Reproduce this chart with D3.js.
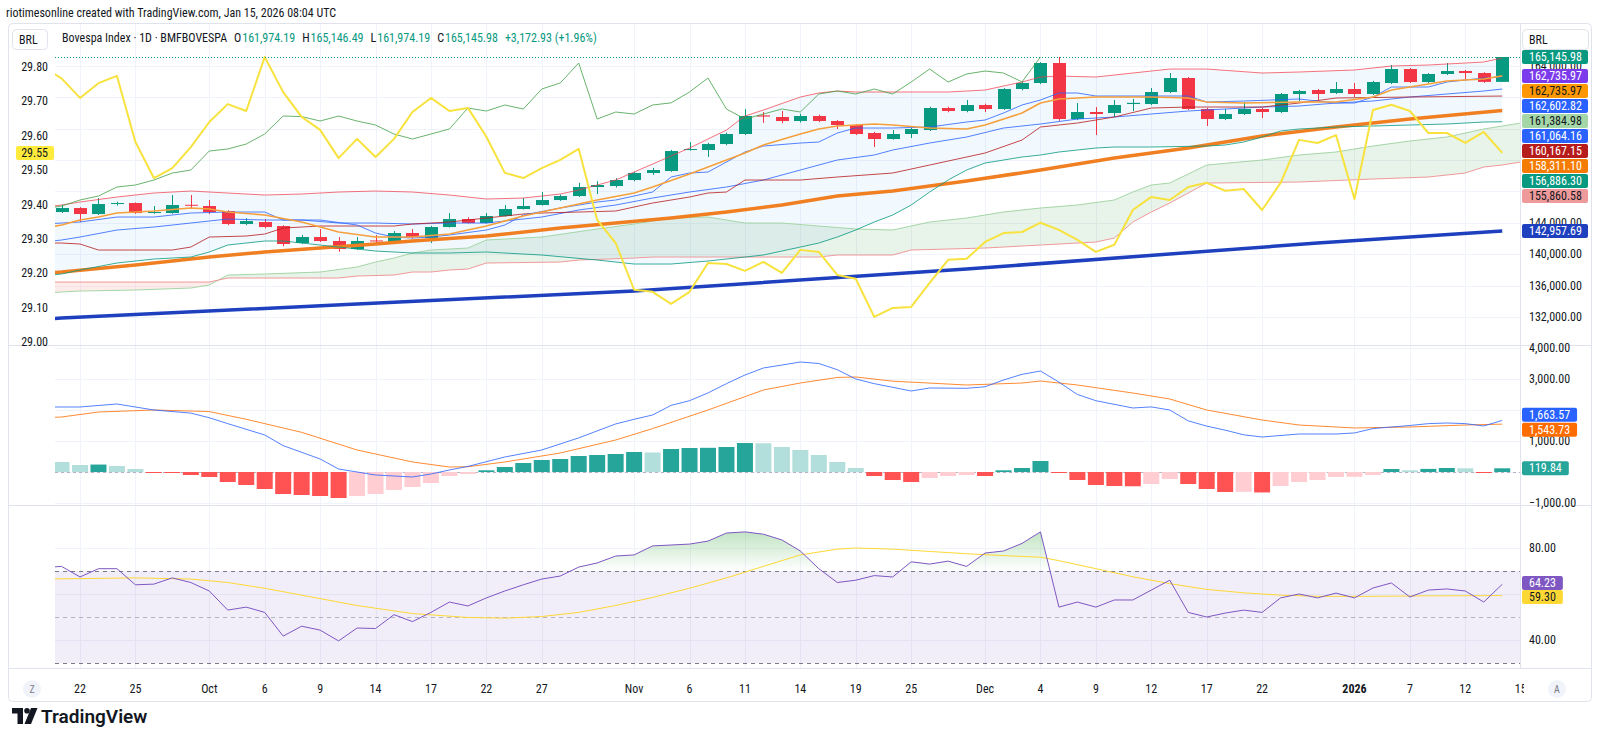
<!DOCTYPE html>
<html>
<head>
<meta charset="utf-8">
<title>Bovespa Index · 1D</title>
<script src="https://cdn.jsdelivr.net/npm/d3@7/dist/d3.min.js"></script>
<style>
  html, body { margin: 0; background: #fff; }
  svg { display: block; }
  text { font-family: "Liberation Sans Narrow", "Arial Narrow", "Roboto Condensed", Roboto, sans-serif; font-size: 12px; fill: #131722; }
</style>
</head>
<body>
<svg id="chart" width="1600" height="756"></svg>
<script>
// bar index 0 = Sep 22 2025; candles run from -1 (Sep 19) to 77 (Jan 14 2026)
const FIRST_BAR = -1;
const opens  = [145376,145886,145120,146400,146524,145248,145248,146300,146141,145503,143845,144100,143590,141422,142187,141677,140656,141750,141549,142697,142059,143462,144483,143973,144865,145758,146269,146906,147416,148564,148692,149457,150350,150605,153284,153284,154049,155325,157700,157493,156983,157621,156983,156473,155452,154687,155325,155835,158641,158258,159024,158513,161064,161830,164381,157238,158131,158003,159151,159151,160682,162467,158513,157238,157876,158513,158131,160427,160937,160554,161064,160427,161830,163615,161957,162978,163360,163105,161974.19];
const highs  = [146269,146000,147161,146700,146600,146141,147544,147544,146906,145600,144600,144483,143700,142440,143200,142187,142187,142440,142950,143200,143600,145248,144700,145248,146269,147161,147926,147600,149100,149300,149700,150500,151000,153300,154300,154200,155500,158500,158131,158258,157900,157800,157100,156600,155600,155835,156100,158800,158800,159661,159200,161200,162000,164500,165146,159279,158768,159661,159800,161192,163105,162600,158650,158513,159400,158650,160550,160950,161064,161957,161830,162100,164126,163750,163100,164381,163500,163200,165146.49];
const lows   = [145250,144100,145000,146200,145150,145150,145150,145886,145120,143700,143700,143300,141000,141300,141550,140300,140550,141422,141300,142000,141422,143400,143900,143900,144800,145700,146200,146800,147300,147670,148500,149300,150100,150500,153200,152400,153900,155200,156750,156700,156800,156850,155963,155200,153667,154600,154815,155700,158100,158100,158131,158400,160900,161700,157000,157100,155197,157500,158258,159000,160550,158400,156345,157100,157750,157365,158000,159534,159661,160427,160044,160300,161700,161830,161830,162850,162340,161850,161974.19];
const closes = [145886,145120,146396,146524,145248,145376,146269,146200,145376,143845,144228,143462,141294,142187,141677,140656,141677,141650,142697,142187,143462,144483,143973,144865,145758,146141,146906,147416,148564,148820,149457,150350,150733,153156,153411,154049,155325,157621,157550,156983,157621,156983,156473,155325,154687,155325,155963,158641,158258,159024,158513,161064,161830,164381,157238,158131,157876,159024,159300,160682,162467,158513,157238,157876,158513,158131,160427,160809,160427,161064,160427,161957,163615,161957,162978,163360,163105,161973.05,165145.98];

// overlay series on the left scale, from bar -2
const FIRST_YEL = -2;
const yellowVals = [29.80,29.767,29.71,29.753,29.774,29.582,29.477,29.506,29.567,29.640,29.692,29.672,29.829,29.727,29.655,29.617,29.535,29.591,29.538,29.591,29.669,29.71,29.672,29.681,29.597,29.492,29.477,29.506,29.530,29.562,29.355,29.288,29.152,29.146,29.111,29.146,29.230,29.227,29.207,29.233,29.201,29.268,29.262,29.195,29.184,29.073,29.099,29.102,29.172,29.239,29.242,29.291,29.317,29.320,29.347,29.326,29.297,29.262,29.283,29.384,29.422,29.413,29.451,29.463,29.440,29.445,29.384,29.463,29.588,29.579,29.602,29.416,29.675,29.690,29.672,29.608,29.608,29.579,29.611,29.55];

// [bar, value] pairs
const bbUpper = [[-2,146013],[-1,146269],[0,146651],[2,147289],[4,147799],[6,148054],[8,147799],[10,147544],[12,147671],[14,147926],[16,148054],[18,147926],[20,147544],[22,147034],[24,147161],[26,147671],[27,148182],[28,148820],[29,149457],[31,151498],[33,153539],[35,155835],[36,157621],[37,158386],[39,160044],[40,160554],[41,160809],[42,160682],[44,160682],[47,160682],[49,160937],[50,161447],[51,161957],[52,162595],[53,162722],[55,162595],[57,163105],[59,163615],[61,163615],[64,163105],[66,163233],[69,163488],[71,163998],[73,164126],[76,164508],[77,165018]];
const bbLower = [[-2,137213],[-1,137468],[0,137978],[2,138871],[4,139381],[6,139636],[7,140274],[8,141166],[9,141422],[10,141677],[11,141677],[12,141422],[14,140911],[16,140401],[18,140146],[20,140146],[22,140274],[25,139891],[28,139253],[30,138743],[32,138743],[34,139126],[37,139891],[39,140911],[40,141422],[41,142187],[42,143080],[43,144100],[44,144993],[45,146269],[46,147926],[47,149457],[48,150733],[49,151625],[50,152008],[51,152391],[52,152646],[53,153029],[54,153284],[55,153539],[56,153667],[58,153667],[61,153794],[62,153922],[63,154304],[64,154942],[65,155707],[66,155963],[68,156218],[70,156345],[72,156473],[74,156600],[76,156855],[77,156886.30]];
const bbBasis = [[-2,141549],[-1,141804],[0,142187],[2,143080],[4,143462],[6,143973],[8,144483],[10,144355],[12,144355],[14,143973],[16,143973],[18,143845],[20,143973],[22,143973],[25,144738],[27,145631],[29,146269],[31,147161],[33,147926],[35,148564],[37,149457],[39,150733],[41,152008],[43,152646],[44,153284],[46,154177],[48,154942],[50,156090],[52,156600],[54,157238],[56,157493],[58,157876],[60,158258],[62,158513],[64,158768],[66,158896],[68,159279],[70,159534],[72,160044],[74,160427],[76,160809],[77,161064.16]];
const tenkan = [[-2,143845],[-1,143973],[0,144100],[2,144738],[4,144738],[6,145248],[8,145376],[10,145376],[11,144355],[13,144355],[15,143718],[16,142697],[17,142187],[18,142059],[19,142187],[20,142442],[22,143080],[23,143718],[24,144993],[26,145886],[28,146651],[29,146906],[31,147926],[32,149840],[33,150350],[34,150478],[36,153029],[37,153794],[39,154177],[40,154304],[41,155452],[42,156090],[44,156090],[46,156218],[48,156855],[49,157110],[50,158003],[51,159024],[52,159661],[53,160554],[54,160554],[55,160172],[58,160172],[60,160172],[61,159406],[63,159534],[66,159789],[68,159279],[69,159279],[70,160044],[71,161319],[73,161319],[74,161957],[76,162467],[77,162602.82]];
const kijun = [[-2,141422],[-1,141422],[0,141294],[1,140529],[5,140529],[6,140911],[7,142187],[9,142314],[10,142569],[11,143335],[13,143590],[17,143590],[18,143845],[20,144100],[22,144610],[24,145120],[25,145248],[29,145503],[31,146524],[33,147289],[34,147799],[35,147926],[36,149457],[39,149457],[41,149840],[44,150350],[46,151371],[49,152901],[51,154559],[52,156218],[54,156728],[56,157493],[58,158641],[60,158768],[64,158768],[66,159279],[68,159916],[72,160044],[77,160167.15]];
const ema = [[-2,143335],[-1,143718],[0,144355],[1,144738],[2,145248],[4,145503],[6,145886],[7,145758],[8,145376],[10,144993],[12,144100],[14,142824],[16,142187],[18,142187],[20,142569],[22,143590],[24,144865],[26,145886],[28,146906],[30,147799],[31,148564],[33,150222],[35,152008],[36,152901],[37,153922],[39,155325],[40,155963],[41,156345],[43,156600],[44,156473],[46,156090],[48,155963],[49,156473],[51,158003],[52,159279],[53,159789],[55,160044],[58,160044],[60,159916],[61,159406],[63,159279],[66,159406],[68,159406],[70,160044],[71,160937],[73,161702],[74,162085],[76,162340],[77,162735.97]];
const sma50 = [[-2,137595],[-1,137723],[3,138616],[7,139636],[10,140274],[13,140784],[16,141294],[18,141677],[22,142314],[26,143335],[29,143973],[32,144610],[35,145376],[38,146269],[41,147416],[44,148054],[48,149330],[52,150733],[56,152263],[60,153539],[64,155069],[68,156218],[72,157238],[77,158311.10]];
const sma200 = [[-2,131727],[-1,131855],[15,133641],[30,135299],[48,138105],[67,141422],[77,142957.69]];
const spanA = [[-2,135044],[-1,135171],[0,135299],[3,135427],[6,135682],[7,136065],[8,137340],[10,137468],[13,137723],[15,138360],[16,138998],[17,139508],[18,140146],[19,140529],[21,140784],[22,141804],[25,142187],[28,143207],[30,143845],[32,144610],[34,144738],[36,143973],[38,143973],[40,143590],[42,143207],[44,143080],[45,143590],[46,144100],[48,144610],[50,145376],[52,145886],[54,146269],[56,146906],[57,147926],[58,148820],[59,149075],[61,151371],[64,152008],[66,152646],[68,153029],[70,153794],[72,154432],[74,154942],[76,155963],[77,156345],[78,156728]];
const spanB = [[-2,136447],[7,136447],[8,136958],[14,136958],[15,137213],[17,137340],[18,137723],[19,137723],[20,137978],[21,138105],[22,138871],[26,138998],[27,139253],[30,139508],[31,139636],[40,139636],[41,139891],[44,139891],[45,140529],[49,140784],[52,141166],[55,141549],[56,142059],[57,144100],[58,145376],[59,146524],[60,147799],[61,149075],[66,149202],[70,149585],[73,149840],[74,150095],[75,150350],[76,151116],[77,151371],[78,151753]];
const LAG = 25; // lagging span drawn 25 bars back

// MACD pane
const histVals = [323,226,240,194,97,-16,-22,-97,-161,-323,-419,-548,-710,-742,-774,-839,-774,-710,-581,-484,-355,-129,-65,55,161,290,387,419,516,548,581,645,630,742,774,780,806,935,925,806,710,548,323,129,-129,-258,-323,-194,-129,-97,-129,55,129,355,-32,-258,-419,-452,-460,-387,-226,-387,-548,-645,-640,-660,-452,-323,-258,-161,-155,-97,97,55,100,129,120,-20,119.84];
const macdLine = [[-2,2097],[-1,2097],[0,2097],[2,2194],[4,2000],[6,1900],[7,1750],[8,1560],[10,1194],[11,850],[13,420],[14,97],[16,-97],[18,-161],[19,-65],[20,65],[21,180],[23,484],[25,710],[27,1100],[29,1550],[30,1700],[31,1839],[32,2150],[33,2300],[34,2550],[35,2850],[36,3129],[37,3355],[38,3450],[39,3548],[40,3500],[41,3300],[42,3000],[43,2850],[45,2613],[46,2710],[48,2700],[49,2750],[50,2968],[51,3150],[52,3258],[53,2900],[54,2500],[55,2300],[57,2065],[58,2100],[59,2000],[60,1650],[61,1480],[62,1350],[63,1200],[64,1129],[66,1226],[68,1226],[69,1260],[70,1400],[71,1452],[72,1500],[73,1560],[74,1581],[75,1560],[76,1484],[77,1663.57]];
const macdSignal = [[-2,1750],[-1,1774],[1,1935],[4,2000],[7,1950],[9,1700],[12,1280],[15,710],[18,323],[20,161],[21,170],[23,323],[26,613],[29,1032],[31,1400],[34,2000],[37,2645],[39,2871],[41,3050],[42,3065],[44,2930],[48,2806],[51,2870],[52,2935],[54,2806],[57,2548],[59,2355],[61,2000],[64,1677],[66,1516],[69,1420],[72,1452],[75,1516],[77,1543.73]];

// RSI pane, from bar -2
const rsiVals = [71.5,72,67.4,71,71,64,64.3,67,65,61.3,53,54.3,52,41.7,46,44.3,39.6,45.2,45,51,48,52,56.5,54.8,58.3,61.3,64,66.5,67.8,71.7,73.5,76.5,77,80.9,81.3,81.7,83,86.5,87,86,83.5,78.7,71,65,66,68,67.4,74,73,74.3,72,77.8,78.7,82,87,54.3,56.5,54.3,57.4,57.4,61.7,66,52,50,51.7,53,52,58.3,60,58.3,60.4,58.3,62.6,64.8,58.7,61.7,62.2,61.3,56.5,64.23];
const rsiMa = [[-2,66.5],[3,67],[6,66.5],[8,65],[10,62.5],[12,59.5],[15,55],[18,51.5],[21,49.8],[23,49.5],[25,50.2],[27,52],[29,55],[31,58.5],[33,62.5],[35,67],[37,72],[39,77],[41,79.5],[42,80],[44,79.5],[46,78.5],[48,77.5],[50,76.7],[52,76],[53,74.5],[55,71],[57,67.5],[59,64.5],[61,62],[63,60.5],[65,59.5],[67,59],[70,59],[73,59.2],[77,59.3]];

// axes
const timeTicks  = [0,3,7,10,13,16,19,22,25,30,33,36,39,42,45,49,52,55,58,61,64,69,72,75,78];
const timeLabels = ['22','25','Oct','6','9','14','17','22','27','Nov','6','11','14','19','25','Dec','4','9','12','17','22','2026','7','12','15'];
const priceTicks = [132000,136000,140000,144000,148000,152000,156000,160000,164000];
const leftTicks  = [29.0,29.1,29.2,29.3,29.4,29.5,29.6,29.7,29.8];
const macdTicks  = [-1000,0,1000,2000,3000,4000];
const rsiTicks   = [40,60,80];

// ---------------------------------------------------------------------------
const svg = d3.select('#chart');
const L = 55, R = 1520;
const panes = { main: [23, 345], macd: [345, 505], rsi: [505, 668] };
const UP = '#089981', DOWN = '#f23645';
const fmt = d3.format(',.2f');

const x  = d3.scaleLinear().domain([0, 78]).range([80, 1520.7]);
const yP = d3.scaleLinear().domain([132000, 164000]).range([316.9, 66]);
const yL = d3.scaleLinear().domain([29.0, 29.8]).range([342, 67]);
const yM = d3.scaleLinear().domain([-1000, 4000]).range([503, 348]);
const yR = d3.scaleLinear().domain([40, 80]).range([640, 548]);

const defs = svg.append('defs');
Object.entries(panes).forEach(([k, [t, b]]) => {
  defs.append('clipPath').attr('id', 'clip-' + k)
    .append('rect').attr('x', L).attr('y', t).attr('width', R - L).attr('height', b - t);
});
defs.append('clipPath').attr('id', 'clip-time')
  .append('rect').attr('x', 8).attr('y', 668).attr('width', 1516).attr('height', 34);

// header
svg.append('text').attr('x', 6).attr('y', 13).attr('dominant-baseline', 'central')
  .text('riotimesonline created with TradingView.com, Jan 15, 2026 08:04 UTC');

// frame & pane borders
svg.append('rect').attr('x', 8.5).attr('y', 23.5).attr('width', 1583).attr('height', 678)
  .attr('rx', 4).attr('fill', '#fff').attr('stroke', '#e0e3eb');

const grid = svg.append('g').attr('stroke', '#f0f3fa').attr('stroke-width', 1);
timeTicks.filter(i => x(i) < R).forEach(i => {
  const gx = Math.round(x(i)) + 0.5;
  grid.append('line').attr('x1', gx).attr('x2', gx).attr('y1', 24).attr('y2', 668);
});
const hLine = (y) => grid.append('line').attr('x1', L).attr('x2', R)
  .attr('y1', Math.round(y) + 0.5).attr('y2', Math.round(y) + 0.5);
priceTicks.forEach(v => hLine(yP(v)));
macdTicks.forEach(v => hLine(yM(v)));
rsiTicks.forEach(v => hLine(yR(v)));

const border = svg.append('g').attr('stroke', '#e0e3eb');
[345, 505, 668].forEach(y => border.append('line').attr('x1', 9).attr('x2', 1591).attr('y1', y + 0.5).attr('y2', y + 0.5));
border.append('line').attr('x1', R + 0.5).attr('x2', R + 0.5).attr('y1', 24).attr('y2', 668);

// ---- main pane ----
const main = svg.append('g').attr('clip-path', 'url(#clip-main)');
const lineP = d3.line().x(d => x(d[0])).y(d => yP(d[1]));

// ichimoku cloud: polygon between span A and span B, coloured by which one is on top
const cloudPoly = lineP(spanA.concat(spanB.slice().reverse())) + 'Z';
const aboveB = d3.area().x(d => x(d[0])).y0(0).y1(d => yP(d[1]))(spanB);
const belowB = d3.area().x(d => x(d[0])).y0(400).y1(d => yP(d[1]))(spanB);
defs.append('clipPath').attr('id', 'above-b').append('path').attr('d', aboveB);
defs.append('clipPath').attr('id', 'below-b').append('path').attr('d', belowB);
main.append('g').attr('clip-path', 'url(#above-b)').append('path').attr('d', cloudPoly)
  .attr('fill', 'rgba(67,160,71,0.12)').attr('fill-rule', 'evenodd');
main.append('g').attr('clip-path', 'url(#below-b)').append('path').attr('d', cloudPoly)
  .attr('fill', 'rgba(244,67,54,0.10)').attr('fill-rule', 'evenodd');

// bollinger fill
main.append('path').attr('d', lineP(bbUpper.concat(bbLower.slice().reverse())) + 'Z')
  .attr('fill', 'rgba(33,150,243,0.06)');

const bars = opens.map((o, k) => ({ i: k + FIRST_BAR, o, h: highs[k], l: lows[k], c: closes[k] }));
const candle = main.selectAll('g.bar').data(bars).enter().append('g').attr('class', 'bar');
candle.append('line')
  .attr('x1', d => Math.round(x(d.i)) + 0.5).attr('x2', d => Math.round(x(d.i)) + 0.5)
  .attr('y1', d => yP(d.h)).attr('y2', d => yP(d.l))
  .attr('stroke', d => d.c >= d.o ? UP : DOWN);
candle.append('rect')
  .attr('x', d => Math.round(x(d.i)) - 6).attr('width', 13)
  .attr('y', d => yP(Math.max(d.o, d.c)))
  .attr('height', d => Math.max(1, yP(Math.min(d.o, d.c)) - yP(Math.max(d.o, d.c))))
  .attr('fill', d => d.c >= d.o ? UP : DOWN);

const drawP = (pts, color, w, op) => main.append('path').attr('d', lineP(pts))
  .attr('fill', 'none').attr('stroke', color).attr('stroke-width', w)
  .attr('stroke-opacity', op == null ? 1 : op).attr('stroke-linejoin', 'round');

drawP(spanA, '#a5d6a7', 1);
drawP(spanB, '#ef9a9a', 1);
drawP(sma200, '#1e40bf', 3.5);
drawP(sma50, '#f07f22', 3.5);
drawP(bbUpper, '#f23645', 1, 0.7);
drawP(bbLower, '#089981', 1, 0.8);
drawP(bbBasis, '#2962ff', 1, 0.8);
drawP(kijun, '#b71c1c', 1, 0.8);
drawP(tenkan, '#2962ff', 1, 0.8);
drawP(ema, '#f5a03c', 1.6);
const lagging = closes.map((c, k) => [k + FIRST_BAR - LAG, c]);
drawP(lagging, '#43a047', 1, 0.8);

const yellowPts = yellowVals.map((v, k) => [k + FIRST_YEL, v]);
main.append('path').attr('d', d3.line().x(d => x(d[0])).y(d => yL(d[1]))(yellowPts))
  .attr('fill', 'none').attr('stroke', '#f7e23e').attr('stroke-width', 2).attr('stroke-linejoin', 'round');

// last price line
const lastClose = closes[closes.length - 1];
main.append('line').attr('x1', L).attr('x2', R)
  .attr('y1', Math.round(yP(lastClose)) + 0.5).attr('y2', Math.round(yP(lastClose)) + 0.5)
  .attr('stroke', UP).attr('stroke-dasharray', '1,2');

// ---- MACD pane ----
const macdG = svg.append('g').attr('clip-path', 'url(#clip-macd)');
macdG.append('line').attr('x1', L).attr('x2', R).attr('y1', yM(0) + 0.5).attr('y2', yM(0) + 0.5)
  .attr('stroke', '#b2b5be').attr('stroke-dasharray', '3,3');
const hist = histVals.map((v, k) => ({ i: k + FIRST_BAR, v, prev: k ? histVals[k - 1] : Infinity }));
const histColor = d => d.v >= 0 ? (d.prev < d.v ? '#26a69a' : '#b2dfdb') : (d.prev < d.v ? '#ffcdd2' : '#ff5252');
macdG.selectAll('rect.h').data(hist).enter().append('rect').attr('class', 'h')
  .attr('x', d => x(d.i) - 8).attr('width', 16)
  .attr('y', d => Math.min(yM(0), yM(d.v)))
  .attr('height', d => Math.max(1, Math.abs(yM(d.v) - yM(0))))
  .attr('fill', histColor);
const lineM = d3.line().x(d => x(d[0])).y(d => yM(d[1]));
macdG.append('path').attr('d', lineM(macdSignal)).attr('fill', 'none').attr('stroke', '#ff6d00').attr('stroke-opacity', 0.8);
macdG.append('path').attr('d', lineM(macdLine)).attr('fill', 'none').attr('stroke', '#2962ff').attr('stroke-opacity', 0.8);

// ---- RSI pane ----
const rsiG = svg.append('g').attr('clip-path', 'url(#clip-rsi)');
rsiG.append('rect').attr('x', L).attr('width', R - L).attr('y', yR(70)).attr('height', yR(30) - yR(70))
  .attr('fill', 'rgba(126,87,194,0.1)');
[[70, 1], [50, 0.5], [30, 1]].forEach(([v, op]) => rsiG.append('line').attr('x1', L).attr('x2', R)
  .attr('y1', Math.round(yR(v)) + 0.5).attr('y2', Math.round(yR(v)) + 0.5)
  .attr('stroke', '#787b86').attr('stroke-opacity', op).attr('stroke-dasharray', '4,4'));
const rsiPts = rsiVals.map((v, k) => [k + FIRST_YEL, v]);
const grad = defs.append('linearGradient').attr('id', 'ob').attr('gradientUnits', 'userSpaceOnUse')
  .attr('x1', 0).attr('x2', 0).attr('y1', yR(100)).attr('y2', yR(70));
grad.append('stop').attr('offset', 0).attr('stop-color', 'rgb(76,175,80)').attr('stop-opacity', 0.6);
grad.append('stop').attr('offset', 1).attr('stop-color', 'rgb(76,175,80)').attr('stop-opacity', 0.0);
defs.append('clipPath').attr('id', 'ob-clip').append('rect')
  .attr('x', L).attr('y', 505).attr('width', R - L).attr('height', yR(70) - 505);
rsiG.append('g').attr('clip-path', 'url(#ob-clip)').append('path')
  .attr('d', d3.area().x(d => x(d[0])).y0(yR(70)).y1(d => yR(d[1]))(rsiPts))
  .attr('fill', 'url(#ob)');
const lineR = d3.line().x(d => x(d[0])).y(d => yR(d[1]));
rsiG.append('path').attr('d', lineR(rsiMa)).attr('fill', 'none').attr('stroke', '#fdd835');
rsiG.append('path').attr('d', lineR(rsiPts)).attr('fill', 'none').attr('stroke', '#7e57c2');

// ---- axes text ----
const axR = svg.append('g');
function placeLabels(items, gap, centered) {
  items.sort((a, b) => a.y - b.y);
  items.forEach(d => { d.p = d.y; });
  for (let k = 1; k < items.length; k++) if (items[k].p - items[k - 1].p < gap) items[k].p = items[k - 1].p + gap;
  if (centered) {
    let s = 0;
    for (let k = 1; k <= items.length; k++) {
      if (k === items.length || items[k].p - items[k - 1].p > gap + 0.01) {
        const cl = items.slice(s, k);
        const sh = d3.mean(cl, d => d.y) - d3.mean(cl, d => d.p);
        cl.forEach(d => { d.p += sh; });
        s = k;
      }
    }
  }
  return items;
}
function drawTicks(ticks, scale, fmtf, labels) {
  ticks.forEach(v => {
    const ty = scale(v);
    if (labels.some(l => Math.abs(l.p - ty) < 10)) return;
    axR.append('text').attr('x', 1529).attr('y', ty).attr('dominant-baseline', 'central').text(fmtf(v));
  });
}
function drawLabels(labels, xLeft, fixedW) {
  labels.forEach(l => {
    const g = axR.append('g');
    const t = g.append('text').attr('x', xLeft + 7).attr('y', l.p).attr('dominant-baseline', 'central')
      .style('fill', l.fg).text(l.text);
    const w = fixedW || t.node().getComputedTextLength() + 14;
    g.insert('rect', 'text').attr('x', xLeft).attr('y', l.p - 7).attr('width', w).attr('height', 14)
      .attr('rx', 2).attr('fill', l.bg);
  });
}

const mainLabels = placeLabels([
  { v: 165145.98, bg: UP, fg: '#fff' },
  { v: 162735.97, bg: '#7c3aed', fg: '#fff' },
  { v: 162735.97, bg: '#ff9800', fg: '#131722' },
  { v: 162602.82, bg: '#2962ff', fg: '#fff' },
  { v: 161384.98, bg: '#a5d6a7', fg: '#131722' },
  { v: 161064.16, bg: '#2962ff', fg: '#fff' },
  { v: 160167.15, bg: '#b71c1c', fg: '#fff' },
  { v: 158311.10, bg: '#f57c00', fg: '#fff' },
  { v: 156886.30, bg: '#089981', fg: '#fff' },
  { v: 155860.58, bg: '#ef9a9a', fg: '#131722' },
  { v: 142957.69, bg: '#1e40bf', fg: '#fff' }
].map(d => ({ ...d, y: yP(d.v), text: fmt(d.v) })), 15, false);
// 164,000 and 144,000 peek out from behind the value labels, as on the original
drawTicks(priceTicks.filter(v => v !== 164000 && v !== 144000), yP, fmt, mainLabels);
[164000, 144000].forEach(v => axR.append('text').attr('x', 1529).attr('y', yP(v)).attr('dominant-baseline', 'central').text(fmt(v)));
drawLabels(mainLabels, 1522, 66);

const macdLabels = placeLabels([
  { v: 1663.57, bg: '#2962ff', fg: '#fff' },
  { v: 1543.73, bg: '#ff6d00', fg: '#fff' },
  { v: 119.84, bg: '#26a69a', fg: '#fff' }
].map(d => ({ ...d, y: yM(d.v), text: fmt(d.v) })), 15, true);
drawTicks(macdTicks, yM, fmt, macdLabels);
drawLabels(macdLabels, 1522);

const rsiLabels = placeLabels([
  { v: 64.23, bg: '#7e57c2', fg: '#fff' },
  { v: 59.30, bg: '#fdd835', fg: '#131722' }
].map(d => ({ ...d, y: yR(d.v), text: fmt(d.v) })), 14, true);
drawTicks(rsiTicks, yR, fmt, rsiLabels);
drawLabels(rsiLabels, 1522);

// left scale
const axL = svg.append('g');
const yelLast = yellowVals[yellowVals.length - 1];
leftTicks.forEach(v => {
  if (Math.abs(yL(v) - yL(yelLast)) < 9) return;
  axL.append('text').attr('x', 48).attr('y', yL(v)).attr('text-anchor', 'end')
    .attr('dominant-baseline', 'central').text(v.toFixed(2));
});
axL.append('rect').attr('x', 16).attr('y', yL(yelLast) - 7).attr('width', 38).attr('height', 14)
  .attr('rx', 2).attr('fill', '#ffeb3b');
axL.append('text').attr('x', 48).attr('y', yL(yelLast)).attr('text-anchor', 'end')
  .attr('dominant-baseline', 'central').text(yelLast.toFixed(2));

// time axis
const tAx = svg.append('g').attr('clip-path', 'url(#clip-time)');
timeTicks.forEach((i, k) => {
  tAx.append('text').attr('x', x(i)).attr('y', 689).attr('text-anchor', 'middle')
    .attr('dominant-baseline', 'central')
    .style('font-weight', timeLabels[k] === '2026' ? 'bold' : null)
    .text(timeLabels[k]);
});
[[32, 'Z'], [1557, 'A']].forEach(([cx, t]) => {
  svg.append('circle').attr('cx', cx).attr('cy', 689).attr('r', 9).attr('fill', '#f0f3fa');
  svg.append('text').attr('x', cx).attr('y', 689).attr('text-anchor', 'middle')
    .attr('dominant-baseline', 'central').style('font-size', '10px').style('fill', '#787b86').text(t);
});

// legend
[[12, 35], [1522, 66]].forEach(([bx, bw]) => {
  svg.append('rect').attr('x', bx + 0.5).attr('y', 29.5).attr('width', bw).attr('height', 20)
    .attr('rx', 4).attr('fill', '#fff').attr('stroke', '#e0e3eb');
  svg.append('text').attr('x', bx + 7).attr('y', 39.5).attr('dominant-baseline', 'central').text('BRL');
});
const legendParts = [
  ['Bovespa Index · 1D · BMFBOVESPA', '#131722', 0],
  ['O', '#131722', 7], ['161,974.19', UP, 1],
  ['H', '#131722', 7], ['165,146.49', UP, 1],
  ['L', '#131722', 7], ['161,974.19', UP, 1],
  ['C', '#131722', 7], ['165,145.98', UP, 1],
  ['+3,172.93 (+1.96%)', UP, 7]
];
const legendText = svg.append('text').attr('x', 62).attr('y', 38).attr('dominant-baseline', 'central');
legendParts.forEach(([t, c, gap]) => legendText.append('tspan').attr('dx', gap).style('fill', c).text(t));

// TradingView logo
const logo = svg.append('g').attr('fill', '#131722');
logo.append('path').attr('d', 'M12 708 h11 v16 h-5.5 v-10.5 h-5.5 z');
logo.append('circle').attr('cx', 27).attr('cy', 710.8).attr('r', 2.8);
logo.append('path').attr('d', 'M31 708 h6.5 l-6.5 16 h-6.5 z');
svg.append('text').attr('x', 41).attr('y', 716).attr('dominant-baseline', 'central')
  .style('font-family', 'Roboto, "Liberation Sans", sans-serif').style('font-size', '19px')
  .style('font-weight', 600).text('TradingView');
</script>
</body>
</html>
